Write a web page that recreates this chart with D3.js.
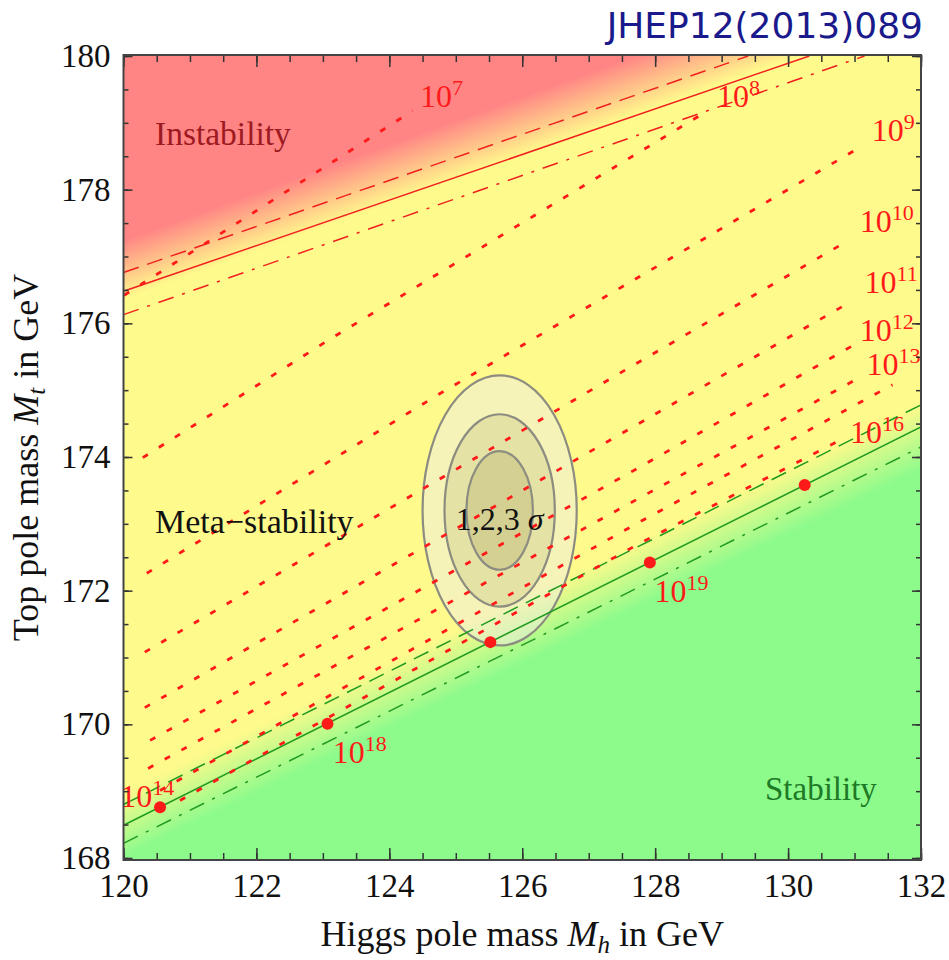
<!DOCTYPE html>
<html>
<head>
<meta charset="utf-8">
<script src="https://cdn.jsdelivr.net/npm/d3@7"></script>
<style>
body { margin: 0; background: #fff; }
svg text { font-family: "Liberation Serif", "Times New Roman", serif; }
</style>
</head>
<body>
<svg id="chart" width="949" height="960"></svg>
<script>
// boundary lines [Mh, Mt]
var instabSolid   = [[120, 176.48], [130.32, 180]];
var instabDashed  = [[120, 176.76], [129.4, 180]];
var instabDashDot = [[120, 176.13], [131.15, 180]];
var stabSolid     = [[120, 168.49], [132, 174.45]];
var stabDashed    = [[120, 168.80], [132, 174.78]];
var stabDashDot   = [[120, 168.22], [132, 174.15]];

// colour band centre lines
var instabEdge = [[120, 176.8], [132, 181.1]];
var stabEdge   = [[120, 168.5], [132, 174.3]];

// dotted contours of the instability scale (log10 Lambda)
var lambdaExp = [7, 8, 9, 10, 11, 12, 13, 14, 16];
var lambdaLines = [
    [[120.01, 176.42], [124.35, 179.18]],
    [[120.29, 173.99], [123.15, 175.79], [128.79, 179.18]],
    [[120.35, 172.26], [124.73, 174.93], [131.11, 178.65]],
    [[120.32, 171.08], [127.77, 175.43], [130.89, 177.23]],
    [[120.32, 170.25], [127.77, 174.51], [130.92, 176.31]],
    [[120.40, 169.76], [127.77, 173.85], [131.05, 175.71]],
    [[120.37, 169.34], [127.77, 173.39], [131.08, 175.19]],
    [[120.55, 169.01], [127.77, 173.03], [131.57, 175.08]],
    [[120.85, 168.86], [127.77, 172.71], [130.88, 174.30]]
];

// red dots on the stability line
var dotMh = [120.55, 123.07, 125.52, 127.92, 130.25];
var dotMt = [168.76, 170.01, 171.23, 172.42, 173.58];

// "10^n" labels
var labelExp = [7, 8, 9, 10, 11, 12, 13, 16, 14, 18, 19];
var labelMh  = [124.46, 128.93, 131.26, 131.08, 131.15, 131.08, 131.18, 130.93, 119.95, 123.15, 127.99];
var labelMt  = [179.24, 179.24, 178.73, 177.36, 176.46, 175.73, 175.23, 174.21, 168.76, 169.42, 171.83];

// measured Mh, Mt with 1,2,3 sigma ellipses
var center = [125.66, 173.20];
var sigmaRx = [1.16, 0.83, 0.50];
var sigmaRy = [2.02, 1.44, 0.887];

var xTicks = [120, 122, 124, 126, 128, 130, 132];
var yTicks = [168, 170, 172, 174, 176, 178, 180];

var serif = "'Liberation Serif', 'Times New Roman', serif";
var svg = d3.select("#chart");
var x = d3.scaleLinear().domain([120, 132]).range([123.5, 921]);
var y = d3.scaleLinear().domain([168, 180]).range([858, 56]);
var x0 = x.range()[0], x1 = x.range()[1];
var yTop = 55, yBot = 860;

var defs = svg.append("defs");
defs.append("clipPath").attr("id", "clip").append("rect")
    .attr("x", x0).attr("y", yTop).attr("width", x1 - x0).attr("height", yBot - yTop);

function bandGradient(id, edge, hw, color, redSide) {
    var p0 = [x(edge[0][0]), y(edge[0][1])], p1 = [x(edge[1][0]), y(edge[1][1])];
    var dx = p1[0] - p0[0], dy = p1[1] - p0[1], len = Math.hypot(dx, dy);
    var nx = -dy / len, ny = dx / len;
    var g = defs.append("linearGradient").attr("id", id)
        .attr("gradientUnits", "userSpaceOnUse")
        .attr("x1", p0[0] - nx * hw).attr("y1", p0[1] - ny * hw)
        .attr("x2", p0[0] + nx * hw).attr("y2", p0[1] + ny * hw);
    g.append("stop").attr("offset", 0).attr("stop-color", color).attr("stop-opacity", redSide ? 1 : 0);
    g.append("stop").attr("offset", 1).attr("stop-color", color).attr("stop-opacity", redSide ? 0 : 1);
}
bandGradient("gRed", instabEdge, 28, "#ff8585", true);
bandGradient("gGreen", stabEdge, 30, "#8cfb8c", false);

var plot = svg.append("g").attr("clip-path", "url(#clip)");
["#fffa8c", "url(#gRed)", "url(#gGreen)"].forEach(function (f) {
    plot.append("rect").attr("x", x0).attr("y", yTop).attr("width", x1 - x0).attr("height", yBot - yTop)
        .attr("fill", f);
});

// sigma ellipses
var ellFill = ["rgba(236,236,228,0.5)", "rgba(200,195,130,0.35)", "rgba(180,175,110,0.35)"];
plot.selectAll("ellipse").data(sigmaRx).enter().append("ellipse")
    .attr("cx", x(center[0])).attr("cy", y(center[1]))
    .attr("rx", function (d) { return x(120 + d) - x(120); })
    .attr("ry", function (d, i) { return y(168) - y(168 + sigmaRy[i]); })
    .attr("fill", function (d, i) { return ellFill[i]; })
    .attr("stroke", "#8c8c80").attr("stroke-width", 2.2);

var line = d3.line().x(function (d) { return x(d[0]); }).y(function (d) { return y(d[1]); });

function drawLine(pts, color, dash, w) {
    plot.append("path").datum(pts).attr("d", line)
        .attr("fill", "none").attr("stroke", color).attr("stroke-width", w)
        .attr("stroke-dasharray", dash);
}
drawLine(stabSolid, "#1f9a1f", null, 1.5);
drawLine(stabDashed, "#1f9a1f", "16,9", 1.5);
drawLine(stabDashDot, "#1f9a1f", "16,9,3,9", 1.5);
drawLine(instabSolid, "#f02020", null, 1.5);
drawLine(instabDashed, "#f02020", "16,9", 1.5);
drawLine(instabDashDot, "#f02020", "16,9,3,9", 1.5);

lambdaLines.forEach(function (pts) {
    drawLine(pts, "#ff1a1a", "6,13", 2.8);
});

plot.selectAll("circle").data(dotMh).enter().append("circle")
    .attr("cx", function (d) { return x(d); })
    .attr("cy", function (d, i) { return y(dotMt[i]); })
    .attr("r", 6).attr("fill", "#ff1a1a");

// labels of the contours
var lab = svg.append("g");
labelExp.forEach(function (e, i) {
    var t = lab.append("text").attr("x", x(labelMh[i])).attr("y", y(labelMt[i]))
        .attr("fill", "#ff1a1a").style("font-size", "32px");
    t.append("tspan").text("10");
    t.append("tspan").attr("dy", -12).style("font-size", "22px").text(e);
});

// region names
svg.append("text").attr("x", 155).attr("y", 145).attr("fill", "#9e1a22")
    .style("font-size", "33.5px").text("Instability");
svg.append("text").attr("x", 155).attr("y", 533).attr("fill", "#111")
    .style("font-size", "34px").text("Meta\u2212stability");
svg.append("text").attr("x", 765).attr("y", 800).attr("fill", "#1e7a26")
    .style("font-size", "33px").text("Stability");
var sig = svg.append("text").attr("x", x(center[0])).attr("y", 530).attr("text-anchor", "middle")
    .attr("fill", "#111").style("font-size", "32px");
sig.append("tspan").text("1,2,3 ");
sig.append("tspan").style("font-style", "italic").text("\u03c3");

// frame and axes
function minorTicks(lo, hi) { return d3.range(lo, hi + 0.01, 0.5); }

svg.append("g").attr("transform", "translate(0," + yBot + ")")
    .call(d3.axisBottom(x).tickValues(minorTicks(120, 132)).tickSize(-7).tickFormat(""));
svg.append("g").attr("transform", "translate(0," + yBot + ")")
    .call(d3.axisBottom(x).tickValues(xTicks).tickSize(-12).tickPadding(14).tickFormat(d3.format("d")));
svg.append("g").attr("transform", "translate(0," + yTop + ")")
    .call(d3.axisTop(x).tickValues(minorTicks(120, 132)).tickSize(-7).tickFormat(""));
svg.append("g").attr("transform", "translate(0," + yTop + ")")
    .call(d3.axisTop(x).tickValues(xTicks).tickSize(-12).tickFormat(""));
svg.append("g").attr("transform", "translate(" + x0 + ",0)")
    .call(d3.axisLeft(y).tickValues(minorTicks(168, 180)).tickSize(-5).tickFormat(""));
svg.append("g").attr("transform", "translate(" + x0 + ",0)")
    .call(d3.axisLeft(y).tickValues(yTicks).tickSize(-9).tickPadding(13).tickFormat(d3.format("d")));
svg.append("g").attr("transform", "translate(" + x1 + ",0)")
    .call(d3.axisRight(y).tickValues(minorTicks(168, 180)).tickSize(-5).tickFormat(""));
svg.append("g").attr("transform", "translate(" + x1 + ",0)")
    .call(d3.axisRight(y).tickValues(yTicks).tickSize(-9).tickFormat(""));

svg.selectAll(".domain").remove();
svg.selectAll(".tick line").attr("stroke", "#333").attr("stroke-width", 1.5);
svg.selectAll(".tick text").attr("fill", "#111").attr("font-family", serif)
    .style("font-size", "33px").style("font-family", serif);

svg.append("rect").attr("x", x0).attr("y", yTop).attr("width", x1 - x0).attr("height", yBot - yTop)
    .attr("fill", "none").attr("stroke", "#444").attr("stroke-width", 2);

// axis titles
var xt = svg.append("text").attr("x", (x0 + x1) / 2).attr("y", 946).attr("text-anchor", "middle")
    .attr("fill", "#111").style("font-size", "36px");
xt.append("tspan").text("Higgs pole mass ");
xt.append("tspan").style("font-style", "italic").text("M");
xt.append("tspan").attr("dy", 7).style("font-style", "italic").style("font-size", "25px").text("h");
xt.append("tspan").attr("dy", -7).text(" in GeV");

var yt = svg.append("text").attr("transform", "translate(38," + (yTop + yBot) / 2 + ") rotate(-90)")
    .attr("text-anchor", "middle").attr("fill", "#111").style("font-size", "36px");
yt.append("tspan").text("Top pole mass ");
yt.append("tspan").style("font-style", "italic").text("M");
yt.append("tspan").attr("dy", 7).style("font-style", "italic").style("font-size", "25px").text("t");
yt.append("tspan").attr("dy", -7).text(" in GeV");

// journal reference
svg.append("text").attr("x", 923).attr("y", 38).attr("text-anchor", "end")
    .attr("fill", "#1a1a8c")
    .style("font-family", "'DejaVu Sans', sans-serif").style("font-size", "36px")
    .text("JHEP12(2013)089");
</script>
</body>
</html>
